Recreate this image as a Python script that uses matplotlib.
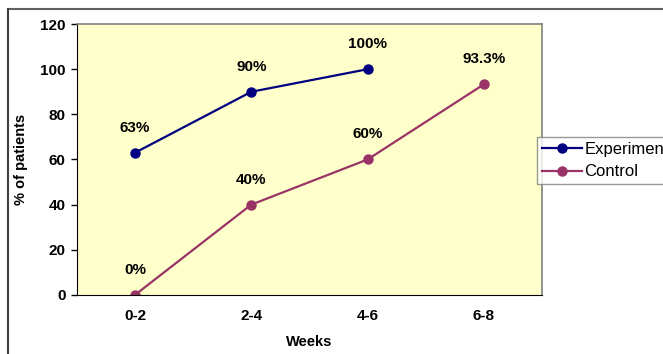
import matplotlib.pyplot as plt
from matplotlib.lines import Line2D

plt.rcParams['font.family'] = ['Liberation Sans', 'DejaVu Sans']

weeks = ['0-2', '2-4', '4-6', '6-8']
experiment = [63, 90, 100]
experiment_labels = ['63%', '90%', '100%']
control = [0, 40, 60, 93.3]
control_labels = ['0%', '40%', '60%', '93.3%']

fig = plt.figure(figsize=(6.63, 3.54), dpi=100)
ax = fig.add_axes([0.116, 0.167, 0.7015, 0.765])
ax.set_facecolor('#FFFFCC')

x_exp = list(range(len(experiment)))
x_ctl = list(range(len(control)))
ax.plot(x_exp, experiment, color='#000080', lw=1.6, marker='o', ms=6.5,
        label='Experiment')
ax.plot(x_ctl, control, color='#993366', lw=1.6, marker='o', ms=6.5,
        label='Control')

for xi, v, t in zip(x_exp, experiment, experiment_labels):
    ax.annotate(t, (xi, v), xytext=(0, 13), textcoords='offset points',
                ha='center', va='bottom', fontsize=11, fontweight='bold')
for xi, v, t in zip(x_ctl, control, control_labels):
    ax.annotate(t, (xi, v), xytext=(0, 13), textcoords='offset points',
                ha='center', va='bottom', fontsize=11, fontweight='bold')

ax.set_xlim(-0.5, 3.5)
ax.set_ylim(0, 120)
ax.set_xticks(x_ctl)
ax.set_xticklabels(weeks)
ax.set_yticks(range(0, 121, 20))
ax.tick_params(axis='x', length=0, pad=10, labelsize=11)
ax.tick_params(axis='y', length=4, width=1, direction='out', pad=4, labelsize=11)
for lab in ax.get_xticklabels() + ax.get_yticklabels():
    lab.set_fontweight('bold')

for s in ['top', 'right']:
    ax.spines[s].set_color('#808080')
    ax.spines[s].set_linewidth(1.2)
ax.spines['left'].set_color('black')
ax.spines['bottom'].set_color('black')

ax.set_xlabel('Weeks', fontsize=10.5, fontweight='bold', labelpad=9)
ax.set_ylabel('% of patients', fontsize=10.5, fontweight='bold', labelpad=9)

leg = fig.legend(loc='upper left', bbox_to_anchor=(537 / 663, 1 - 137 / 354),
                 fontsize=12, frameon=True, fancybox=False, handlelength=2.4,
                 borderpad=0.3, labelspacing=0.45, handletextpad=0.15,
                 borderaxespad=0)
leg.get_frame().set_edgecolor('#808080')
leg.get_frame().set_linewidth(1)

# outer chart border
fig.add_artist(Line2D([8 / 663, 1], [1 - 9 / 354, 1 - 9 / 354],
                      transform=fig.transFigure, color='#606060', lw=1.5))
fig.add_artist(Line2D([8 / 663, 8 / 663], [0, 1 - 9 / 354],
                      transform=fig.transFigure, color='#404040', lw=1.5))

fig.savefig('out.png', dpi=100)
